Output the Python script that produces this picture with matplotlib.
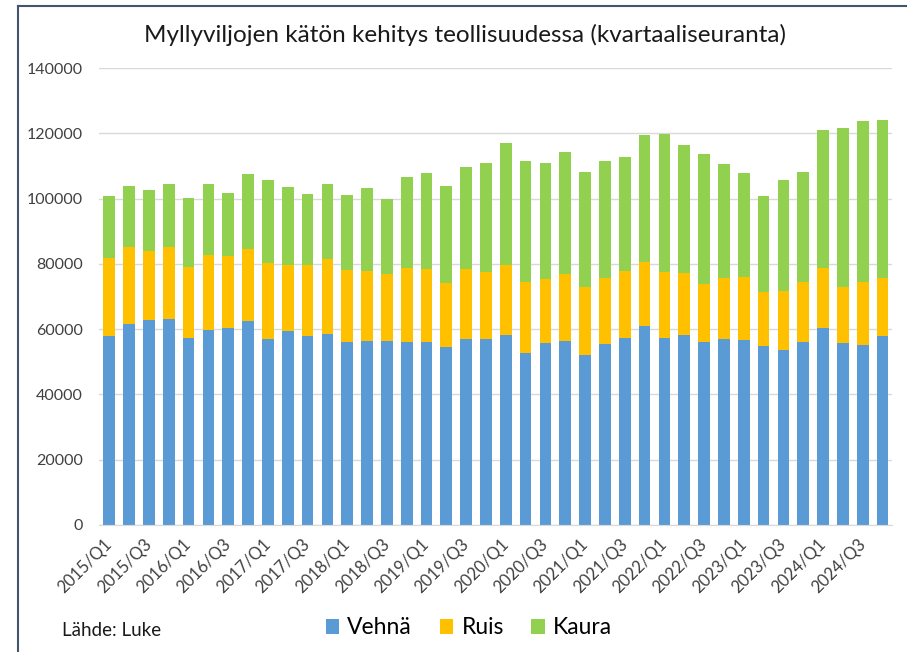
"""Myllyviljojen kätön kehitys teollisuudessa, pinottu pylväskuvio kvartaaleittain."""

import matplotlib
matplotlib.use("Agg")
import matplotlib.pyplot as plt
from matplotlib.lines import Line2D
import numpy as np

QUARTERS = [f"{y}/Q{q}" for y in range(2015, 2025) for q in range(1, 5)]

VEHNA = [57900, 61700, 62700, 63100, 57400, 59600, 60300, 62400, 57100, 59300,
         57900, 58400, 56100, 56300, 56300, 56000, 56000, 54500, 57000, 57000,
         58200, 52700, 55700, 56400, 52200, 55500, 57400, 60900, 57300, 58200,
         56000, 57100, 56800, 54700, 53700, 56000, 60200, 55700, 55100, 58000]
RUIS = [23800, 23400, 21200, 22000, 21700, 23200, 22000, 22200, 23200, 20500,
        21900, 23100, 21900, 21600, 20500, 22600, 22400, 19700, 21500, 20400,
        21600, 21800, 19600, 20400, 20700, 20200, 20400, 19700, 20200, 19000,
        17700, 18600, 19200, 16800, 18100, 18300, 18600, 17300, 19200, 17800]
KAURA = [19100, 18700, 18800, 19300, 21000, 21800, 19400, 23000, 25400, 23800,
         21500, 22900, 23000, 25300, 23000, 28000, 29500, 29700, 31100, 33500,
         37200, 37100, 35700, 37500, 35300, 35800, 35000, 38800, 42400, 39200,
         40100, 35000, 31800, 29400, 34000, 33700, 42200, 48700, 49400, 48300]

YTICKS = [0, 20000, 40000, 60000, 80000, 100000, 120000, 140000]

COLORS = {"Vehnä": "#5B9BD5", "Ruis": "#FFC000", "Kaura": "#92D050"}
FONT = ["Lato", "DejaVu Sans"]

plt.rcParams["font.family"] = FONT

fig = plt.figure(figsize=(9.07, 6.52), dpi=100)
ax = fig.add_axes([0.1095, 0.1948, 0.8745, 0.7009])

x = np.arange(len(QUARTERS))
v = np.array(VEHNA)
r = np.array(RUIS)
k = np.array(KAURA)
w = 0.59
ax.bar(x, v, w, color=COLORS["Vehnä"], label="Vehnä", zorder=2)
ax.bar(x, r, w, bottom=v, color=COLORS["Ruis"], label="Ruis", zorder=2)
ax.bar(x, k, w, bottom=v + r, color=COLORS["Kaura"], label="Kaura", zorder=2)

ax.set_xlim(-0.5, len(QUARTERS) - 0.5)
ax.set_ylim(0, 140000)
ax.set_yticks(YTICKS)
ax.set_yticklabels([str(t) for t in YTICKS], fontsize=11.5, color="#404040")
ax.yaxis.grid(True, color="#D9D9D9", linewidth=1, zorder=0)
ax.set_axisbelow(True)

# joka toinen kvartaali akselille
ax.set_xticks(x[::2])
ax.set_xticklabels(QUARTERS[::2], rotation=45, ha="right", va="center",
                   rotation_mode="anchor", fontsize=12, color="#404040")
ax.tick_params(axis="both", length=0)
ax.tick_params(axis="x", pad=12)
ax.tick_params(axis="y", pad=12)

for side in ["top", "right", "left"]:
    ax.spines[side].set_visible(False)
ax.spines["bottom"].set_color("#D9D9D9")

fig.text(0.513, 0.946, "Myllyviljojen kätön kehitys teollisuudessa (kvartaaliseuranta)",
         ha="center", va="center", fontsize=17.5, color="#1a1a1a")
fig.text(0.068, 0.033, "Lähde: Luke", ha="left", va="center", fontsize=13.5,
         color="#1a1a1a")

fig.legend(loc="center", bbox_to_anchor=(0.517, 0.037), ncol=3, frameon=False,
           fontsize=16.5, handlelength=0.6, handleheight=0.6, handletextpad=0.35,
           columnspacing=1.2)

# kehys vasemmalla ja ylhäällä
fig.add_artist(Line2D([18 / 907, 18 / 907], [0, 1 - 6 / 652],
                      transform=fig.transFigure, color="#44546A", linewidth=1.5))
fig.add_artist(Line2D([18 / 907, 1], [1 - 6 / 652, 1 - 6 / 652],
                      transform=fig.transFigure, color="#44546A", linewidth=1.5))

fig.savefig("out.png", dpi=100)
